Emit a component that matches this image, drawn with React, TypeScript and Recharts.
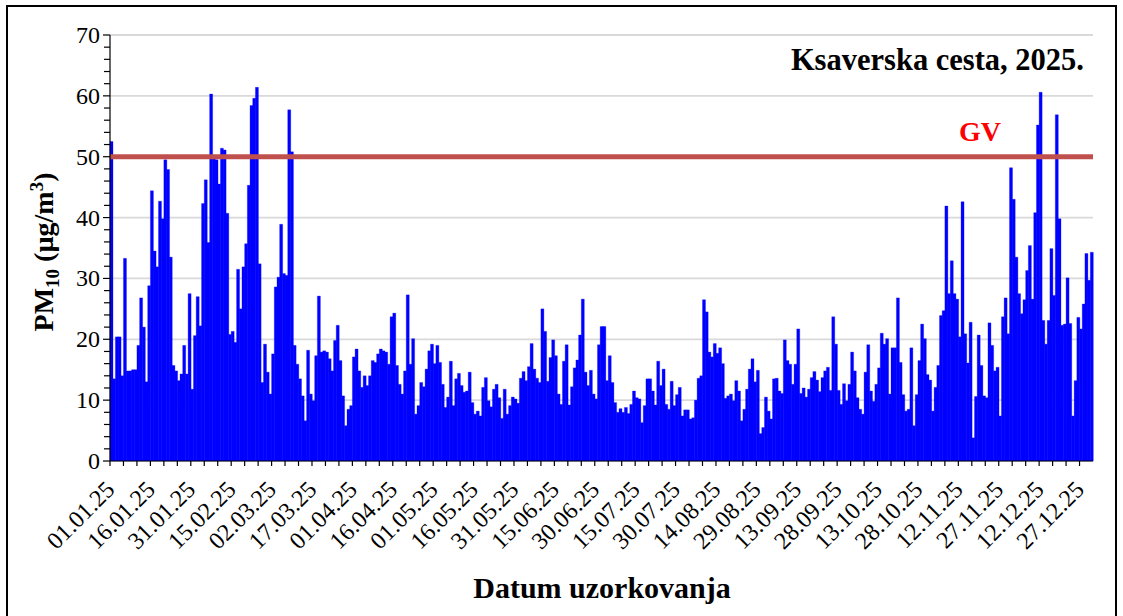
import React from 'react'
import { BarChart, Bar, XAxis, YAxis, CartesianGrid, ReferenceLine } from 'recharts'

// daily PM10 (µg/m3)
const jan = [52.5, 13.5, 20.4, 20.4, 14, 33.3, 14.8, 14.8, 15, 15, 19, 26.8, 22, 13, 28.8, 44.4, 34.5, 31.9, 42.7, 39.8, 49.5, 47.9, 33.5, 15.7, 14.8, 13.2, 14.3, 19, 14.3, 27.5, 11.8]
const feb = [20.6, 27, 22.2, 42.3, 46.2, 35.9, 60.3, 50, 49.5, 45.5, 51.4, 51.1, 40.7, 20.8, 21.3, 19.5, 31.5, 25, 31.9, 35.7, 45.3, 58.4, 59.6, 61.4, 32.4, 12.9, 19.2, 14.6]
const mar = [11, 17.6, 28.6, 30.2, 38.9, 30.8, 30.5, 57.7, 50.8, 19, 15.9, 13.5, 10.7, 6.6, 18.2, 11, 9.9, 17.3, 27.1, 17.9, 18.1, 17.9, 16.8, 14.8, 19.8, 22.3, 16.5, 10.7, 5.8, 8.5, 9.1]
const apr = [17.1, 18.4, 14.8, 12.1, 14, 12.4, 14, 16.5, 16.2, 17.6, 18.4, 18.1, 17.9, 15.9, 23.7, 24.3, 15.7, 12.6, 11, 14.8, 27.3, 15.9, 20.1, 7.7, 9.1, 12.9, 12.2, 15.1, 18.1, 19.2]
const may = [16, 19, 16.2, 12.6, 8.8, 10.5, 16.4, 9.1, 13.5, 14.4, 12.4, 11.3, 11.5, 14.6, 9.6, 7.7, 8.2, 7.4, 12.1, 13.7, 9.9, 8.9, 11.8, 12.6, 10.4, 7, 11.8, 7.7, 9.1, 10.5, 10.2]
const jun = [9.5, 13.6, 14.7, 13.2, 15.5, 19.3, 15.1, 13.6, 12.9, 25, 21.3, 13.1, 17, 19.9, 17.3, 11, 9.3, 16.4, 19.1, 9.2, 12.2, 15.3, 16.6, 20.7, 26.6, 14.6, 12.4, 14.9, 11, 10.2]
const jul = [19.1, 22.1, 22.1, 13.2, 17.3, 12.9, 9.6, 8, 8.6, 8, 8.8, 7.8, 9.3, 11.5, 10.4, 10.2, 6.3, 9.1, 13.5, 13.5, 11.5, 9.2, 16.4, 12.4, 15.1, 9.3, 8.5, 13.1, 9.1, 10.9, 12.1]
const aug = [7.4, 8.4, 8.4, 6.9, 7.1, 10, 13.6, 14, 26.5, 24.5, 17.9, 17.1, 19.3, 17.7, 18.6, 16, 10.3, 10.7, 11, 9.9, 13.2, 11.5, 6.6, 8.5, 11.8, 15.1, 16.8, 13, 14.9, 4.5, 5.5]
const sep = [10.5, 8.2, 6.9, 13.5, 13.6, 11.5, 11.1, 19.9, 16.5, 15.9, 12.6, 15.9, 21.7, 11.1, 12, 10.5, 11.8, 13.7, 14.7, 13.3, 11.4, 13.7, 14.8, 15.4, 11.6, 23.7, 19.2, 11.6, 9.3, 12.7]
const oct = [9.9, 12.6, 17.9, 14.8, 10.4, 8.5, 7.7, 14.6, 19.1, 11.5, 9.8, 12.6, 15.3, 21, 19.2, 20.1, 11, 18.6, 18.6, 26.8, 16.2, 10.9, 8.2, 8.5, 18.6, 5.8, 10.9, 16.5, 22.5, 20.1, 14.2]
const nov = [13.3, 8.2, 12.1, 15.7, 23.9, 24.7, 41.9, 27.5, 32.9, 27.5, 26.6, 20.4, 42.6, 20.9, 16.1, 22.8, 3.8, 10.6, 20.7, 15.7, 10.7, 10.4, 22.7, 19, 14.8, 15.4, 7.4, 23.7, 26.8, 20.9]
const dec = [48.2, 43, 33.5, 27.5, 24.2, 26.5, 31.3, 35.4, 26.6, 40.8, 55.2, 60.6, 23.1, 19.2, 23.1, 34.9, 27.2, 56.9, 39.8, 22.3, 22.5, 30.1, 22.6, 7.4, 13.2, 23.6, 21.7, 25.8, 34.1, 29.7, 34.3]

// every 15th day gets a label
const tickLabels = [
  '01.01.25', '16.01.25', '31.01.25', '15.02.25', '02.03.25', '17.03.25', '01.04.25', '16.04.25',
  '01.05.25', '16.05.25', '31.05.25', '15.06.25', '30.06.25', '15.07.25', '30.07.25', '14.08.25',
  '29.08.25', '13.09.25', '28.09.25', '13.10.25', '28.10.25', '12.11.25', '27.11.25', '12.12.25', '27.12.25',
]
const yTicks = Array.from({ length: 36 }, (_, k) => k * 2)
const gridValues = [10, 20, 30, 40, 50, 60, 70]
const limitValue = 50

const pm10 = [...jan, ...feb, ...mar, ...apr, ...may, ...jun, ...jul, ...aug, ...sep, ...oct, ...nov, ...dec]
const data = pm10.map((v, i) => ({ day: i, pm10: v }))

const W = 1123
const H = 616
const PLOT_LEFT = 110
const PLOT_RIGHT = 1093
const PLOT_TOP = 35
const PLOT_BOTTOM = 461
const BAND = (PLOT_RIGHT - PLOT_LEFT) / pm10.length
const SERIF = '"Liberation Serif", "Times New Roman", serif'

function XTick(props: any) {
  const { x, payload } = props
  const i = payload.value as number
  if (i % 5 !== 0) return <g />
  const x0 = x - BAND / 2
  const y = PLOT_BOTTOM
  const label = i % 15 === 0 ? tickLabels[i / 15] : null
  return (
    <g>
      <line x1={x0} y1={y} x2={x0} y2={y + 5} stroke="#000" strokeWidth={1.2} />
      {label && (
        <text
          x={x0 + 6}
          y={y + 30}
          textAnchor="end"
          transform={`rotate(-45 ${x0 + 6} ${y + 30})`}
          fontFamily={SERIF}
          fontSize={24}
          fill="#000"
        >
          {label}
        </text>
      )}
    </g>
  )
}

function YTick(props: any) {
  const { y, payload } = props
  const v = payload.value as number
  const major = v % 10 === 0
  const x = PLOT_LEFT
  return (
    <g>
      <line x1={x - (major ? 7 : 6)} y1={y} x2={x} y2={y} stroke="#000" strokeWidth={1.2} />
      {major && (
        <text x={x - 10} y={y + 8} textAnchor="end" fontFamily={SERIF} fontSize={24} fill="#000">
          {v}
        </text>
      )}
    </g>
  )
}

export default function App() {
  return (
    <div style={{ position: 'absolute', left: 0, top: 0, width: W, height: H, background: '#fff', overflow: 'hidden' }}>
      <div
        style={{
          position: 'absolute',
          left: 6,
          top: 5,
          width: 1111,
          height: 640,
          border: '2px solid #000',
          boxSizing: 'border-box',
        }}
      />
      <div style={{ position: 'absolute', left: 0, top: 0 }}>
        <BarChart
          width={W}
          height={H}
          data={data}
          margin={{ top: PLOT_TOP, right: W - PLOT_RIGHT, bottom: 95, left: 50 }}
          barCategoryGap={0}
          barGap={0}
        >
          <CartesianGrid vertical={false} horizontalValues={gridValues} stroke="#d9d9d9" strokeWidth={1.8} />
          <XAxis
            dataKey="day"
            type="category"
            interval={0}
            height={60}
            tick={<XTick />}
            tickLine={false}
            tickSize={0}
            axisLine={{ stroke: '#000', strokeWidth: 1.2 }}
          />
          <YAxis
            domain={[0, 70]}
            ticks={yTicks}
            interval={0}
            width={60}
            tick={<YTick />}
            tickLine={false}
            tickSize={0}
            axisLine={{ stroke: '#000', strokeWidth: 1.2 }}
          />
          <Bar dataKey="pm10" fill="#0000ff" stroke="#0000ff" strokeWidth={0.3} isAnimationActive={false} />
          <ReferenceLine y={limitValue} stroke="#c0504d" strokeWidth={5} />
        </BarChart>
      </div>
      <div
        style={{
          position: 'absolute',
          right: W - 1084,
          top: 43,
          fontFamily: SERIF,
          fontWeight: 'bold',
          fontSize: 30.5,
          whiteSpace: 'nowrap',
        }}
      >
        Ksaverska cesta, 2025.
      </div>
      <div
        style={{
          position: 'absolute',
          left: 959,
          top: 116,
          fontFamily: SERIF,
          fontWeight: 'bold',
          fontSize: 28,
          color: '#ff0000',
        }}
      >
        GV
      </div>
      <div
        style={{
          position: 'absolute',
          left: 45,
          top: 252,
          transform: 'translate(-50%, -50%) rotate(-90deg)',
          fontFamily: SERIF,
          fontWeight: 'bold',
          fontSize: 28,
          whiteSpace: 'nowrap',
        }}
      >
        PM<sub style={{ fontSize: 19 }}>10</sub> (µg/m<sup style={{ fontSize: 19 }}>3</sup>)
      </div>
      <div
        style={{
          position: 'absolute',
          left: 602,
          top: 588,
          transform: 'translate(-50%, -50%)',
          fontFamily: SERIF,
          fontWeight: 'bold',
          fontSize: 30,
          whiteSpace: 'nowrap',
        }}
      >
        Datum uzorkovanja
      </div>
    </div>
  )
}
